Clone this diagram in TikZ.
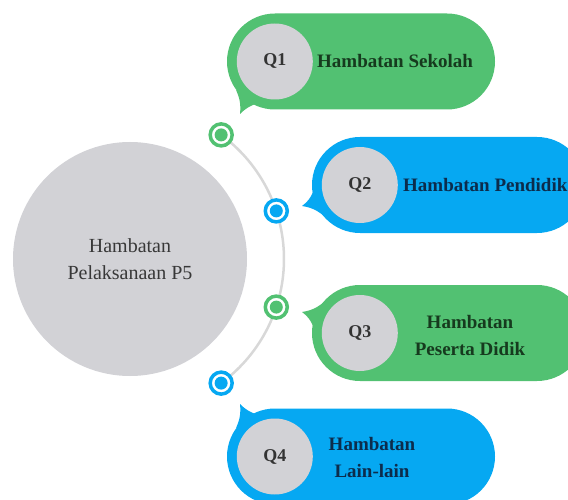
\documentclass[tikz,border=0pt]{standalone}
\usepackage{fontspec}
\setmainfont{Liberation Serif}
\usepackage{tikz}
\usetikzlibrary{positioning}

\definecolor{qgreen}{RGB}{82,193,114}
\definecolor{qblue}{RGB}{6,168,242}
\definecolor{qgray}{RGB}{210,210,214}
\definecolor{arcgray}{RGB}{216,216,216}
\definecolor{greentext}{RGB}{22,58,30}
\definecolor{bluetext}{RGB}{12,44,76}

\begin{document}
\begin{tikzpicture}[x=1pt, y=1pt,
    bubble/.style={rounded corners=48pt, minimum width=273pt, minimum height=96pt, inner sep=0pt},
    qcircle/.style={circle, fill=qgray, minimum size=76pt, inner sep=0pt, text=black!80, font=\fontsize{18}{22}\selectfont\bfseries},
    qtext/.style={inner sep=0pt, align=center, font=\fontsize{19}{27}\selectfont\bfseries},
    ringdot/.style={circle, draw=#1, line width=3.5pt, fill=white, minimum size=22pt, inner sep=0pt,
        path picture={\fill[#1] (path picture bounding box.center) circle (6.5pt);}}]
        \useasboundingbox (0,0) rectangle (568,499);
        \clip (0,0) rectangle (568,499);

        % centre
        \node[circle, fill=qgray, minimum size=234pt, inner sep=0pt, align=center, text=black!78,
            font=\fontsize{20}{27}\selectfont] (hub) at (130,240) {Hambatan\\Pelaksanaan P5};

        % arc with dots
        \coordinate (o) at (130,240);
        \coordinate (p1) at ([shift={(53.7:154)}]o);
        \coordinate (p2) at ([shift={(18.2:154)}]o);
        \coordinate (p3) at ([shift={(-18.2:154)}]o);
        \coordinate (p4) at ([shift={(-53.7:154)}]o);
        \draw[arcgray, line width=2.5pt] (p1) arc[start angle=53.7, end angle=-53.7, radius=154pt];
        \node[ringdot=qgreen] (d1) at (p1) {};
        \node[ringdot=qblue] (d2) at (p2) {};
        \node[ringdot=qgreen] (d3) at (p3) {};
        \node[ringdot=qblue] (d4) at (p4) {};

        % bubbles
        \node[bubble, fill=qgreen, minimum width=268pt] (b1) at (361,437.5) {};
        \node[bubble, fill=qblue] (b2) at (448.5,314) {};
        \node[bubble, fill=qgreen] (b3) at (448.5,166) {};
        \node[bubble, fill=qblue, minimum width=268pt] (b4) at (361,42.5) {};

        \fill[qgreen] (236,409) to[bend left=15] (240,385) to[bend left=15] (259,396) -- cycle;
        \fill[qblue] (313,307) to[bend left=15] (302,293) to[bend left=15] (324,283) -- cycle;
        \fill[qgreen] (313,173) to[bend right=15] (302,187) to[bend right=15] (324,197) -- cycle;
        \fill[qblue] (236,71) to[bend right=15] (240,95) to[bend right=15] (259,84) -- cycle;

        \node[qcircle] (q1) at ([xshift=48pt]b1.west) {Q1};
        \node[qcircle] (q2) at ([xshift=48pt]b2.west) {Q2};
        \node[qcircle] (q3) at ([xshift=48pt]b3.west) {Q3};
        \node[qcircle] (q4) at ([xshift=48pt]b4.west) {Q4};

        \node[qtext, text=greentext, right=4pt of q1] (t1) {Hambatan Sekolah};
        \node[qtext, text=bluetext, right=5pt of q2] (t2) {Hambatan Pendidik};
        \node[qtext, text=greentext] (t3) at (470,164) {Hambatan\\Peserta Didik};
        \node[qtext, text=bluetext] (t4) at (372,41.5) {Hambatan\\Lain-lain};
    \end{tikzpicture}
\end{document}
